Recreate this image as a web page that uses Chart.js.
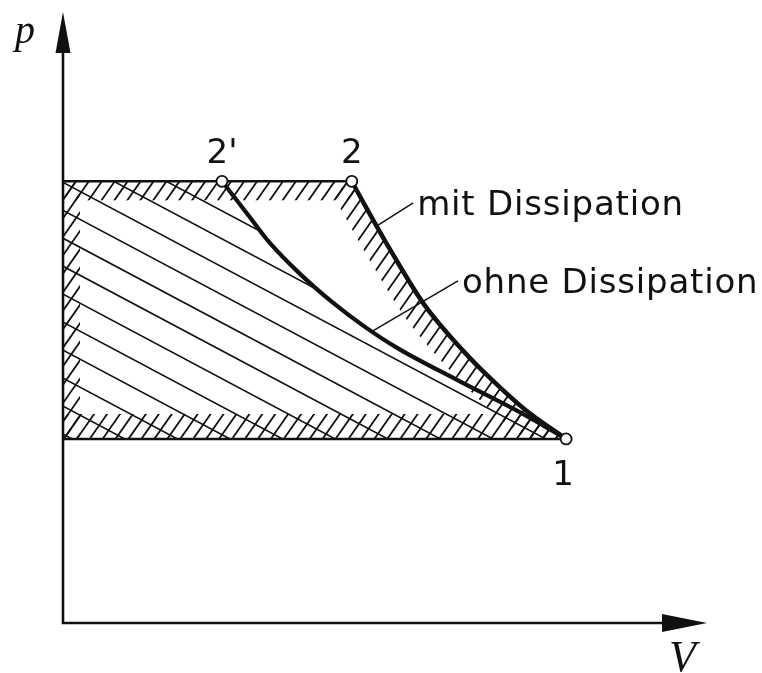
<!DOCTYPE html>
<html>
<head>
<meta charset="utf-8">
<script src="https://cdn.jsdelivr.net/npm/chart.js@4"></script>
<style>
  html, body { margin: 0; padding: 0; background: #fff; }
  canvas { display: block; }
</style>
</head>
<body>
<canvas id="pv" width="762" height="673"></canvas>
<script>
// state points (V, p)
var stateNames = ["1", "2", "2'"];
var stateV = [1.0, 0.574, 0.316];
var stateP = [1.0, 2.40, 2.40];

// compression 1 -> 2 with dissipation
var mitV = [0.574, 0.594, 0.650, 0.718, 0.795, 0.849, 0.918, 1.0];
var mitP = [2.40, 2.30, 2.03, 1.73, 1.48, 1.33, 1.16, 1.0];

// compression 1 -> 2' without dissipation
var ohneV = [0.316, 0.368, 0.411, 0.471, 0.537, 0.600, 0.664, 0.783, 0.914, 1.0];
var ohneP = [2.40, 2.217, 2.065, 1.897, 1.739, 1.609, 1.495, 1.321, 1.136, 1.0];

// leader lines from each curve to its label
var curveLabels = ["mit Dissipation", "ohne Dissipation"];
var leaderV = [[0.624, 0.696], [0.616, 0.785]];
var leaderP = [[2.158, 2.283], [1.587, 1.859]];

var axisMaxV = 1.28;
var axisMaxP = 3.32;

var INK = '#111';

function pts(vs, ps) {
  return vs.map(function (v, i) { return { x: v, y: ps[i] }; });
}

// parallel lines at angleDeg through (ax, ay), spaced gap apart, covering box
function drawHatch(ctx, box, angleDeg, gap, ax, ay) {
  var a = angleDeg * Math.PI / 180;
  var dx = Math.cos(a), dy = -Math.sin(a);
  var nx = -dy, ny = dx;
  var r = Math.hypot(box.right - box.left, box.bottom - box.top) + 200;
  var n = Math.ceil(r / gap);
  ctx.beginPath();
  for (var k = -n; k <= n; k++) {
    var px = ax + nx * k * gap, py = ay + ny * k * gap;
    ctx.moveTo(px - dx * r, py - dy * r);
    ctx.lineTo(px + dx * r, py + dy * r);
  }
  ctx.stroke();
}

var IDX_MIT = 1, IDX_OHNE = 2;

var diagramPlugin = {
  id: 'diagram',
  beforeDatasetsDraw: function (chart) {
    var ctx = chart.ctx, xs = chart.scales.x, ys = chart.scales.y, area = chart.chartArea;
    var left = xs.getPixelForValue(0);
    var yTop = ys.getPixelForValue(stateP[1]);
    var yBot = ys.getPixelForValue(stateP[0]);
    var mitLine = chart.getDatasetMeta(IDX_MIT).dataset;
    var ohneLine = chart.getDatasetMeta(IDX_OHNE).dataset;
    mitLine.updateControlPoints(area, 'x');
    ohneLine.updateControlPoints(area, 'x');

    function region(line) {
      ctx.beginPath();
      line.path(ctx);
      ctx.lineTo(left, yBot);
      ctx.lineTo(left, yTop);
      ctx.closePath();
    }

    // wide hatching: work without dissipation
    ctx.save();
    region(ohneLine);
    ctx.clip();
    ctx.strokeStyle = INK;
    ctx.lineWidth = 1.6;
    drawHatch(ctx, area, -28, 24.7, left, yTop + 1);
    ctx.restore();

    // edge hatching: work with dissipation
    var off = document.createElement('canvas');
    off.width = chart.width;
    off.height = chart.height;
    var octx = off.getContext('2d');
    octx.strokeStyle = INK;
    octx.lineWidth = 1.8;
    drawHatch(octx, area, 55, 10.6, left, yTop);
    var pat = ctx.createPattern(off, 'no-repeat');

    ctx.save();
    region(mitLine);
    ctx.clip();
    ctx.fillStyle = pat;
    var x2 = xs.getPixelForValue(stateV[1]);
    var x1 = xs.getPixelForValue(stateV[0]);
    ctx.fillRect(left, yTop, x2 - left + 30, 19);
    ctx.fillRect(left, yTop, 17, yBot - yTop);
    ctx.fillRect(left, yBot - 25, x1 - left, 25);
    ctx.beginPath();
    mitLine.path(ctx);
    ctx.strokeStyle = pat;
    ctx.lineWidth = 46;
    ctx.stroke();
    ctx.restore();

    // axes with arrow heads
    var y0 = ys.getPixelForValue(0);
    ctx.save();
    ctx.strokeStyle = INK;
    ctx.fillStyle = INK;
    ctx.lineWidth = 2.6;
    ctx.beginPath();
    ctx.moveTo(left, area.top + 20);
    ctx.lineTo(left, y0);
    ctx.lineTo(area.right - 20, y0);
    ctx.stroke();
    ctx.beginPath();
    ctx.moveTo(left, area.top);
    ctx.lineTo(left + 7.5, area.top + 41);
    ctx.lineTo(left - 7.5, area.top + 41);
    ctx.closePath();
    ctx.fill();
    ctx.beginPath();
    ctx.moveTo(area.right, y0);
    ctx.lineTo(area.right - 45, y0 - 9);
    ctx.lineTo(area.right - 45, y0 + 9);
    ctx.closePath();
    ctx.fill();
    ctx.restore();
  },
  afterDatasetsDraw: function (chart) {
    var ctx = chart.ctx, xs = chart.scales.x, ys = chart.scales.y, area = chart.chartArea;
    ctx.save();
    ctx.fillStyle = INK;

    // axis symbols
    ctx.font = "italic 40px 'Liberation Serif'";
    ctx.textAlign = 'left';
    ctx.textBaseline = 'alphabetic';
    ctx.fillText('p', area.left - 48, area.top + 31);
    ctx.font = "italic 44px 'Liberation Serif'";
    ctx.fillText('V', area.right - 38, ys.getPixelForValue(0) + 48);

    // state numbers
    ctx.font = "34px 'DejaVu Sans'";
    ctx.textAlign = 'center';
    stateNames.forEach(function (name, i) {
      var x = xs.getPixelForValue(stateV[i]);
      var y = ys.getPixelForValue(stateP[i]);
      if (i === 0) ctx.fillText(name, x - 3, y + 46);
      else ctx.fillText(name, x, y - 18);
    });

    // curve labels at the end of their leader lines
    ctx.textAlign = 'left';
    ctx.letterSpacing = '0.8px';
    curveLabels.forEach(function (txt, i) {
      var x = xs.getPixelForValue(leaderV[i][1]);
      var y = ys.getPixelForValue(leaderP[i][1]);
      ctx.fillText(txt, x + 4, y + 12);
    });
    ctx.restore();
  }
};

var lineStyle = { borderColor: INK, pointRadius: 0, fill: false, clip: false };

new Chart(document.getElementById('pv'), {
  type: 'line',
  data: {
    datasets: [
      {
        data: pts(stateV, stateP), showLine: false, pointRadius: 5.5,
        pointBackgroundColor: '#fff', pointBorderColor: INK, pointBorderWidth: 1.8, clip: false
      },
      Object.assign({ data: pts(mitV, mitP), borderWidth: 4.5, cubicInterpolationMode: 'monotone' }, lineStyle),
      Object.assign({ data: pts(ohneV, ohneP), borderWidth: 4.2, cubicInterpolationMode: 'monotone' }, lineStyle),
      Object.assign({ data: [{ x: 0, y: stateP[1] }, { x: stateV[1], y: stateP[1] }], borderWidth: 2.4 }, lineStyle),
      Object.assign({ data: [{ x: 0, y: stateP[0] }, { x: stateV[0], y: stateP[0] }], borderWidth: 2.4 }, lineStyle),
      Object.assign({ data: pts(leaderV[0], leaderP[0]), borderWidth: 1.5 }, lineStyle),
      Object.assign({ data: pts(leaderV[1], leaderP[1]), borderWidth: 1.5 }, lineStyle)
    ]
  },
  options: {
    responsive: false,
    animation: false,
    events: [],
    layout: { padding: { left: 63, right: 55, top: 12, bottom: 50 } },
    scales: {
      x: { type: 'linear', display: false, min: 0, max: axisMaxV },
      y: { type: 'linear', display: false, min: 0, max: axisMaxP }
    },
    plugins: { legend: { display: false }, tooltip: { enabled: false } }
  },
  plugins: [diagramPlugin]
});
</script>
</body>
</html>
